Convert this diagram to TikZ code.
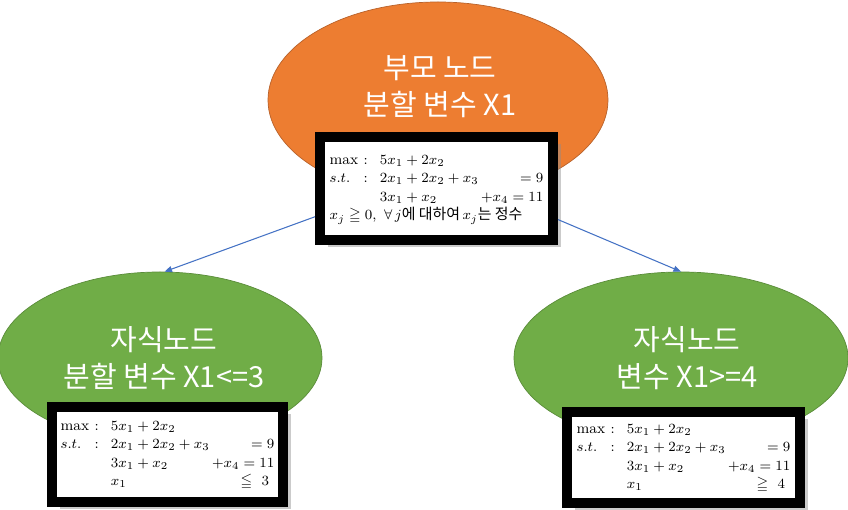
\documentclass[tikz,border=0pt]{standalone}
\usepackage{amsmath}
\usepackage{amssymb}
\usepackage{fontspec}
\usepackage{tikz}
\usetikzlibrary{arrows.meta,calc,shapes.geometric,shadows}
\newfontfamily\krfont{Noto Sans CJK KR}
\definecolor{treeOrange}{HTML}{ED7D31}
\definecolor{treeOrangeEdge}{HTML}{B8612A}
\definecolor{treeGreen}{HTML}{70AD47}
\definecolor{treeGreenEdge}{HTML}{5A8C3A}
\definecolor{treeBlue}{HTML}{4472C4}
\tikzset{
  branch arrow/.style={-{Triangle[length=1.5mm,width=1.2mm]}, line width=0.6pt,
    draw=treeBlue},
  parent node/.style={ellipse, draw=treeOrangeEdge, line width=0.4pt,
    fill=treeOrange, inner sep=0pt},
  child node/.style={ellipse, draw=treeGreenEdge, line width=0.4pt,
    fill=treeGreen, inner sep=0pt},
  node title/.style={text=white, align=center,
    font=\krfont\fontsize{16.5}{21}\selectfont},
  lp box/.style={draw=black, line width=0.2cm, fill=white, inner sep=0pt,
    font=\fontsize{8.5}{10.5}\selectfont,
    drop shadow={shadow xshift=0.15cm, shadow yshift=-0.15cm,
      fill=black!45, opacity=0.45}}
}

\begin{document}
\begin{tikzpicture}
  \useasboundingbox (0,0) rectangle (16.96,-10.2);

  % parent
  \node[parent node, minimum width=6.8cm, minimum height=3.92cm]
    (pnode) at (8.76,-2.0) {};
  \node[node title] (ptitle) at (8.8,-1.74) {부모 노드\\분할 변수 X1};
  \node[lp box, minimum width=4.66cm, minimum height=2.06cm] (pbox)
    at (8.73,-3.77)
    {$\renewcommand{\arraystretch}{1.0}
     \begin{array}{@{}l@{\hspace{3pt}}c@{\hspace{7pt}}l@{\,}r@{}}
       \max & : & 5x_1+2x_2 & \\
       s.t. & : & 2x_1+2x_2+x_3 & =9\\
            &   & 3x_1+x_2 & +x_4=11\\
       \multicolumn{4}{@{}l@{}}{x_j \geqq 0,\ \forall\, j\text{\krfont 에 대하여}\,
         x_j\text{\krfont 는 정수}}
     \end{array}$};

  % left child
  \node[child node, minimum width=6.48cm, minimum height=3.44cm]
    (lnode) at (3.2,-7.16) {};
  \node[node title] (ltitle) at (3.28,-7.17) {자식노드\\분할 변수 X1<=3};
  \node[lp box, minimum width=4.62cm, minimum height=1.9cm] (lbox)
    at (3.35,-9.09)
    {$\renewcommand{\arraystretch}{1.0}
     \begin{array}{@{}l@{\hspace{3pt}}c@{\hspace{7pt}}l@{\,}r@{}}
       \max & : & 5x_1+2x_2 & \\
       s.t. & : & 2x_1+2x_2+x_3 & =9\\
            &   & 3x_1+x_2 & +x_4=11\\
            &   & x_1 & \leqq\ 3\hspace{3pt}
     \end{array}$};

  % right child
  \node[child node, minimum width=6.68cm, minimum height=3.44cm]
    (rnode) at (13.62,-7.16) {};
  \node[node title] (rtitle) at (13.74,-7.16) {자식노드\\변수 X1>=4};
  \node[lp box, minimum width=4.66cm, minimum height=1.82cm] (rbox)
    at (13.67,-9.15)
    {$\renewcommand{\arraystretch}{1.0}
     \begin{array}{@{}l@{\hspace{3pt}}c@{\hspace{7pt}}l@{\,}r@{}}
       \max & : & 5x_1+2x_2 & \\
       s.t. & : & 2x_1+2x_2+x_3 & =9\\
            &   & 3x_1+x_2 & +x_4=11\\
            &   & x_1 & \geqq\ 4\hspace{3pt}
     \end{array}$};

  \draw[branch arrow] ($(pbox.west)!0.5!(pbox.south west)$) -- (lnode.87);
  \draw[branch arrow] ($(pbox.east)!0.55!(pbox.south east)$) -- (rnode.north);
\end{tikzpicture}
\end{document}
